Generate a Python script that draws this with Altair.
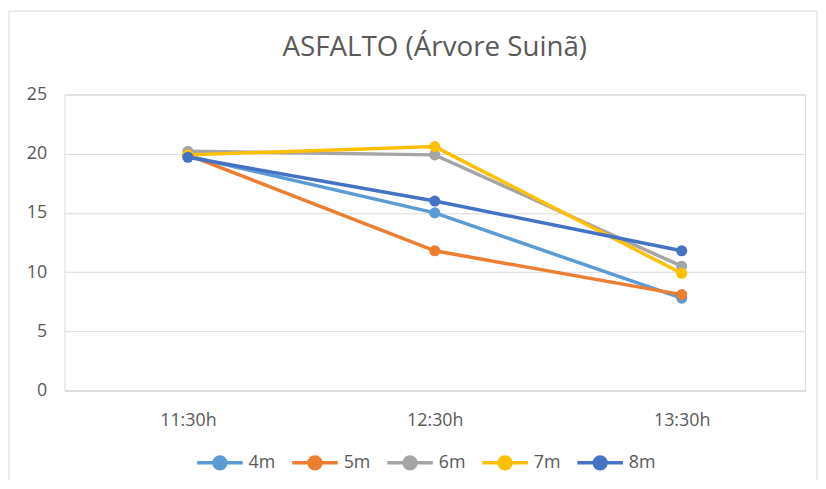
import altair as alt
import pandas as pd

times = ["11:30h", "12:30h", "13:30h"]
series = ["4m", "5m", "6m", "7m", "8m"]
v4m = [19.8, 15.0, 7.8]
v5m = [19.9, 11.8, 8.1]
v6m = [20.2, 19.9, 10.5]
v7m = [19.9, 20.6, 9.9]
v8m = [19.7, 16.0, 11.8]
colors = ["#5B9BD5", "#ED7D31", "#A5A5A5", "#FFC000", "#4472C4"]

rows = []
for s, vals in zip(series, [v4m, v5m, v6m, v7m, v8m]):
    for t, v in zip(times, vals):
        rows.append({"hora": t, "serie": s, "valor": v})
df = pd.DataFrame(rows)

font = "Open Sans"
sym = "M-1,0H1M-0.26,0A0.26,0.26,0,1,1,0.26,0A0.26,0.26,0,1,1,-0.26,0Z"

x = alt.X("hora:N", sort=times, title=None,
          scale=alt.Scale(paddingOuter=0.5, paddingInner=0),
          axis=alt.Axis(labelAngle=0, ticks=False, domainColor="#d9d9d9",
                        domainWidth=1, labelPadding=21, labelFontSize=18,
                        labelColor="#595959", labelFont=font, grid=False))
y = alt.Y("valor:Q", title=None,
          scale=alt.Scale(domain=[0, 25]),
          axis=alt.Axis(values=[0, 5, 10, 15, 20, 25], ticks=False, domain=False,
                        gridColor="#d9d9d9", labelPadding=18, labelFontSize=18,
                        labelColor="#595959", labelFont=font))
color = alt.Color("serie:N", sort=series, title=None,
                  scale=alt.Scale(domain=series, range=colors),
                  legend=alt.Legend(orient="none", direction="horizontal",
                                    legendX=132, legendY=347,
                                    symbolType=sym, symbolSize=2116,
                                    symbolStrokeWidth=3.5, labelFontSize=18,
                                    labelColor="#595959", labelFont=font,
                                    columnPadding=10, labelOffset=4))

base = alt.Chart(df)
lines = base.mark_line(strokeWidth=3.5).encode(x=x, y=y, color=color,
                                               order=alt.Order("hora:N"))
points = base.mark_point(filled=True, size=125, opacity=1).encode(
    x=x, y=y, color=color)

border = alt.Chart(pd.DataFrame({"a": [0]})).mark_rect(
    fill=None, stroke="#d9d9d9", strokeWidth=1).encode(
    x=alt.value(-56), x2=alt.value(760), y=alt.value(-84), y2=alt.value(393))

chart = alt.layer(border, lines, points).properties(
    width=748, height=299,
    title=alt.TitleParams("ASFALTO (Árvore Suinã)", fontSize=28, font=font,
                          fontWeight="normal", color="#595959", offset=-52),
    autosize=alt.AutoSizeParams(type="none"),
    padding={"left": 57, "top": 85, "right": 13, "bottom": 88},
).configure_view(stroke=None).configure(background="white")

chart.save("out.html", embed_options={"renderer": "svg", "actions": False})
